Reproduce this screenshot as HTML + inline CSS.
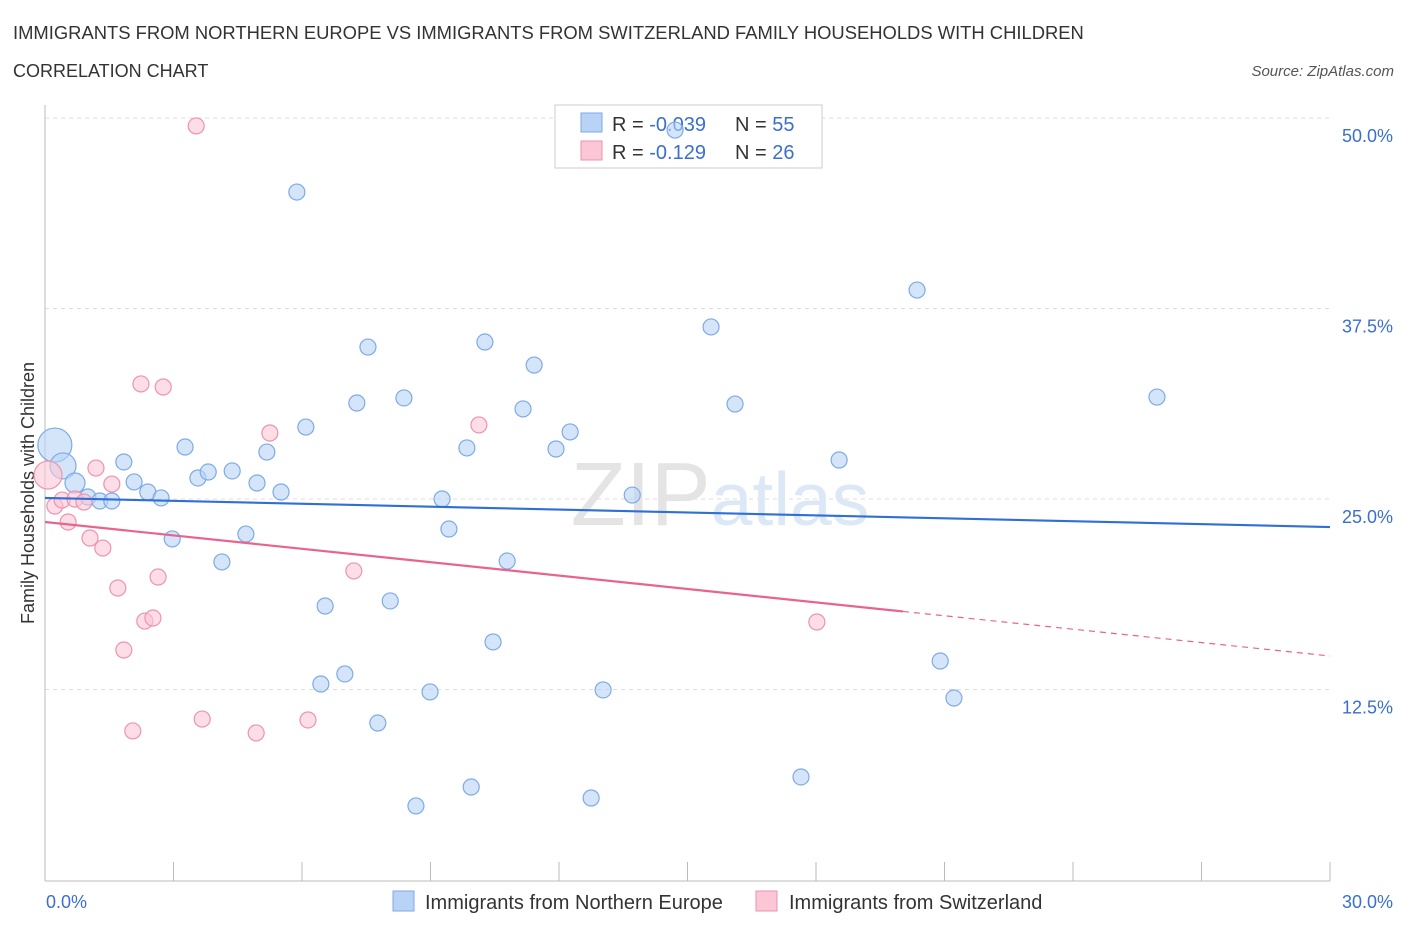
<!DOCTYPE html>
<html><head><meta charset="utf-8"><style>
body{margin:0;background:#fff;font-family:"Liberation Sans",sans-serif;}
svg text{font-family:"Liberation Sans",sans-serif;}
</style></head><body>
<svg id="chart" width="1406" height="930" xmlns="http://www.w3.org/2000/svg">
<text x="13" y="39" font-size="18.4" fill="#333">IMMIGRANTS FROM NORTHERN EUROPE VS IMMIGRANTS FROM SWITZERLAND FAMILY HOUSEHOLDS WITH CHILDREN</text>
<text x="13" y="77" font-size="18" fill="#333">CORRELATION CHART</text>
<text x="1394" y="76" font-size="15" fill="#555" font-style="italic" text-anchor="end">Source: ZipAtlas.com</text>
<g id="grid"></g>
<text x="720" y="525" font-size="90" text-anchor="middle" fill="#e4e4e4" font-family="Liberation Serif,serif">ZIP<tspan fill="#dce8f5" font-family="Liberation Sans,sans-serif" font-size="75">atlas</tspan></text>
<text transform="translate(34,493) rotate(-90)" font-size="18" fill="#333" text-anchor="middle">Family Households with Children</text>
<g>
<rect x="555" y="105" width="267" height="63" fill="#fff" stroke="#ccc"/>
<rect x="581" y="113" width="21" height="19" fill="#b8d3f5" stroke="#7eaae6"/>
<rect x="581" y="141" width="21" height="19" fill="#fbc6d6" stroke="#ee93b0"/>
<text x="612" y="131" font-size="20" fill="#333">R = <tspan fill="#3a6fd0">-0.039</tspan></text>
<text x="735" y="131" font-size="20" fill="#333">N = <tspan fill="#3a6fd0">55</tspan></text>
<text x="612" y="159" font-size="20" fill="#333">R =  <tspan fill="#3a6fd0"> -0.129</tspan></text>
<text x="735" y="159" font-size="20" fill="#333">N = <tspan fill="#3a6fd0">26</tspan></text>
</g>
<g id="marks"></g>
<g>
<rect x="393" y="891" width="21" height="20" fill="#b8d3f5" stroke="#7eaae6"/>
<text x="425" y="909" font-size="20" fill="#333">Immigrants from Northern Europe</text>
<rect x="756" y="891" width="21" height="20" fill="#fbc6d6" stroke="#ee93b0"/>
<text x="789" y="909" font-size="20" fill="#333">Immigrants from Switzerland</text>
</g>
</svg>
<script>
const yTicks=[12.5,25,37.5,50];
const yTickLabels=["12.5%","25.0%","37.5%","50.0%"];
const xTickLabels=["0.0%","30.0%"];
const blueX=[0.23,0.42,0.70,1.00,1.28,1.56,1.84,2.08,2.40,2.71,2.97,3.27,3.57,3.81,4.37,4.69,4.95,5.18,5.51,5.88,6.09,4.13,6.54,6.44,7.00,7.28,7.54,7.77,8.06,8.38,8.66,8.99,9.27,9.43,9.85,9.95,10.27,10.46,10.79,11.16,11.42,11.93,12.26,12.75,13.03,13.71,14.71,15.55,16.11,17.65,18.54,20.36,20.90,21.22,25.96];
const blueY=[28.54,27.17,26.05,25.13,24.87,24.87,27.43,26.12,25.46,25.07,22.38,28.41,26.38,26.77,26.84,22.70,26.05,28.08,25.46,45.14,29.72,20.87,17.98,12.86,13.52,31.30,34.97,10.30,18.31,31.63,4.86,12.34,25.0,23.03,28.35,6.10,35.30,15.62,20.93,30.91,33.79,28.28,29.40,5.38,12.47,25.26,49.21,36.29,31.23,6.76,27.56,38.71,14.37,11.94,31.69];
const blueR=[17,13,10];
const pinkX=[0.07,0.23,0.40,0.54,0.70,0.91,1.05,1.19,1.35,1.56,1.70,1.84,2.05,2.24,2.33,2.52,2.64,2.76,3.53,3.67,4.93,5.25,6.14,7.21,10.13,18.02];
const pinkY=[26.57,24.54,24.93,23.49,25.0,24.80,22.44,27.03,21.78,25.98,19.16,15.09,9.78,32.55,16.99,17.19,19.88,32.35,49.48,10.56,9.65,29.33,10.50,20.28,29.86,16.93];
const pinkR=[14];
const blueTrend=[25.07,23.16];
const pinkTrend=[23.49,14.7];
const pinkSolidEnd=20.03;

const NS="http://www.w3.org/2000/svg";
const X=v=>45+v*(1285/30);
const Y=v=>499-(v-25)*15.24;
function mk(tag,attrs,parent){const e=document.createElementNS(NS,tag);for(const k in attrs)e.setAttribute(k,attrs[k]);parent.appendChild(e);return e;}
const grid=document.getElementById('grid');
const marks=document.getElementById('marks');
yTicks.forEach((t,i)=>{
  const l=mk('line',{x1:45,x2:1330,y1:Y(t),y2:Y(t),stroke:'#ddd','stroke-dasharray':'4,4'},grid);
  
  
  const tx=mk('text',{x:1393,y:Y(t)+24,'font-size':18,fill:'#3a6fd0','text-anchor':'end'},grid);
  tx.textContent=yTickLabels[i];
  
  
});
const ax=mk('line',{x1:45,x2:1330,y1:881,y2:881,stroke:'#bbb'},grid);


const ay=mk('line',{x1:45,x2:45,y1:105,y2:881,stroke:'#bbb'},grid);


for(let i=0;i<=10;i++){const xx=45+i*128.5;
  const t=mk('line',{x1:xx,x2:xx,y1:862,y2:881,stroke:'#bbb'},grid);
  
  }
[[0,46,'start'],[30,1393,'end']].forEach((a,i)=>{
  const t=mk('text',{x:a[1],y:908,'font-size':18,fill:'#3a6fd0','text-anchor':a[2]},grid);
  t.textContent=xTickLabels[i];
  
  });
blueX.forEach((v,i)=>{
  const c=mk('circle',{cx:X(v),cy:Y(blueY[i]),r:blueR[i]||8,fill:'#b8d3f5','fill-opacity':0.6,stroke:'#7eaae6','stroke-width':1.2},marks);
  
  });
pinkX.forEach((v,i)=>{
  const c=mk('circle',{cx:X(v),cy:Y(pinkY[i]),r:pinkR[i]||8,fill:'#fbc6d6','fill-opacity':0.6,stroke:'#ee93b0','stroke-width':1.2},marks);
  
  });
const bl=mk('line',{x1:X(0),y1:Y(blueTrend[0]),x2:X(30),y2:Y(blueTrend[1]),stroke:'#2f6fd6','stroke-width':2.2},marks);


const pm=pinkTrend[0]+(pinkTrend[1]-pinkTrend[0])*pinkSolidEnd/30;
const pl=mk('line',{x1:X(0),y1:Y(pinkTrend[0]),x2:X(pinkSolidEnd),y2:Y(pm),stroke:'#e8648f','stroke-width':2.2},marks);


const pd=mk('line',{x1:X(pinkSolidEnd),y1:Y(pm),x2:X(30),y2:Y(pinkTrend[1]),stroke:'#e8648f','stroke-width':1.2,'stroke-dasharray':'6,5'},marks);


</script>
</body></html>
